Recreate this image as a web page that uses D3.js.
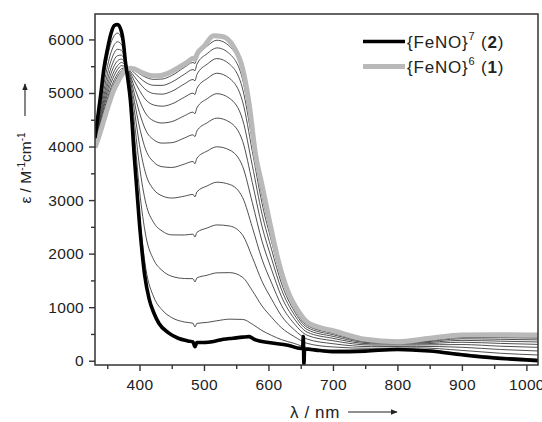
<!DOCTYPE html>
<html>
<head>
<meta charset="utf-8">
<script src="https://cdn.jsdelivr.net/npm/d3@7"></script>
<style>
  html, body { margin: 0; padding: 0; background: #fff; }
  svg text { font-family: "Liberation Sans", Arial, Helvetica, sans-serif; fill: #222; }
</style>
</head>
<body>
<svg id="chart" width="542" height="422"></svg>
<script>
// ---------- data ----------
const xTicksMajor = [400, 500, 600, 700, 800, 900, 1000];
const xTicksMinor = [350, 450, 550, 650, 750, 850, 950];
const yTicksMajor = [0, 1000, 2000, 3000, 4000, 5000, 6000];
const yTicksMinor = [500, 1500, 2500, 3500, 4500, 5500];

// {FeNO}7 (2) – black
const lambdaBlack = [331, 340, 345, 350, 356, 361, 366, 372, 375, 378, 382, 386, 392, 400, 408, 415, 422, 430, 445, 460, 475, 483, 486, 489, 500, 515, 530, 545, 560, 570, 575, 580, 600, 630, 650, 653, 654, 655, 656, 680, 700, 750, 800, 850, 900, 950, 1000, 1018];
const epsBlack    = [4160, 4980, 5470, 5800, 6120, 6260, 6280, 6150, 5950, 5600, 5250, 4850, 3800, 2550, 1600, 1150, 900, 700, 520, 420, 370, 350, 260, 340, 340, 360, 400, 420, 440, 450, 420, 390, 340, 290, 230, 240, 450, -60, 220, 190, 170, 180, 210, 180, 110, 50, 15, 0];

// {FeNO}6 (1) – grey
const lambdaGrey = [331, 340, 350, 360, 366, 372, 378, 385, 392, 400, 410, 420, 430, 445, 460, 475, 483, 486, 489, 500, 515, 530, 545, 560, 570, 580, 590, 600, 615, 630, 645, 660, 680, 700, 750, 800, 850, 900, 950, 1000, 1018];
const epsGrey    = [3980, 4300, 4700, 5050, 5200, 5330, 5420, 5460, 5450, 5400, 5350, 5320, 5320, 5370, 5470, 5580, 5650, 5630, 5720, 5870, 6070, 6050, 5880, 5450, 4800, 3850, 3280, 2700, 1880, 1300, 950, 720, 620, 560, 400, 355, 420, 480, 485, 480, 480];

// intermediate spectra
const lambdaThin = [331, 345, 356, 366, 372, 378, 385, 392, 400, 410, 422, 435, 450, 470, 483, 486, 489, 505, 520, 540, 560, 575, 590, 605, 620, 640, 660, 700, 760, 830, 900, 960, 1018];
const thin1  = [4133, 5315, 5941, 6118, 6027, 5700, 5005, 3978, 2738, 1707, 1192, 950, 805, 722, 700, 630, 697, 716, 746, 776, 771, 683, 563, 472, 394, 323, 244, 196, 199, 212, 134, 69, 32];
const thin2  = [4106, 5180, 5763, 5956, 5904, 5651, 5083, 4229, 3186, 2320, 1886, 1686, 1577, 1535, 1532, 1470, 1546, 1597, 1641, 1645, 1557, 1308, 1023, 809, 617, 451, 324, 257, 231, 240, 193, 139, 107];
const thin3  = [4083, 5063, 5608, 5816, 5797, 5608, 5157, 4468, 3633, 2932, 2580, 2422, 2350, 2348, 2364, 2310, 2396, 2479, 2536, 2515, 2344, 1932, 1483, 1147, 840, 578, 404, 318, 263, 268, 251, 209, 182];
const thin4  = [4063, 4964, 5477, 5697, 5707, 5572, 5220, 4675, 4032, 3478, 3198, 3079, 3038, 3074, 3106, 3060, 3153, 3265, 3334, 3291, 3045, 2490, 1894, 1448, 1038, 691, 475, 373, 292, 294, 302, 271, 250];
const thin5  = [4047, 4883, 5370, 5600, 5633, 5542, 5273, 4844, 4363, 3930, 3711, 3623, 3609, 3674, 3721, 3680, 3781, 3916, 3995, 3933, 3626, 2951, 2233, 1697, 1203, 785, 534, 418, 315, 314, 345, 323, 305];
const thin6  = [4032, 4811, 5275, 5513, 5568, 5516, 5317, 4988, 4631, 4297, 4127, 4064, 4072, 4161, 4219, 4185, 4290, 4444, 4531, 4454, 4097, 3325, 2509, 1900, 1337, 861, 582, 455, 335, 331, 380, 365, 350];
const thin7  = [4020, 4748, 5192, 5438, 5510, 5493, 5355, 5112, 4859, 4609, 4480, 4439, 4465, 4576, 4643, 4612, 4722, 4893, 4987, 4897, 4498, 3644, 2743, 2072, 1450, 926, 623, 486, 351, 346, 410, 400, 389];
const thin8  = [4007, 4685, 5108, 5362, 5453, 5469, 5390, 5224, 5049, 4870, 4776, 4753, 4795, 4923, 4998, 4970, 5085, 5269, 5369, 5269, 4834, 3910, 2940, 2216, 1545, 980, 657, 512, 365, 358, 434, 430, 421];
const thin9  = [3998, 4640, 5049, 5308, 5412, 5453, 5416, 5306, 5186, 5058, 4989, 4978, 5031, 5172, 5252, 5228, 5344, 5539, 5643, 5535, 5074, 4102, 3080, 2319, 1614, 1019, 682, 531, 375, 367, 452, 452, 444];
const thin10 = [3989, 4595, 4989, 5254, 5371, 5436, 5437, 5376, 5286, 5194, 5143, 5142, 5203, 5353, 5438, 5416, 5534, 5735, 5842, 5728, 5250, 4241, 3183, 2394, 1663, 1048, 700, 544, 382, 373, 465, 467, 461];
const thin11 = [3984, 4568, 4954, 5222, 5346, 5427, 5451, 5422, 5357, 5292, 5254, 5260, 5326, 5482, 5570, 5550, 5669, 5876, 5985, 5867, 5375, 4340, 3256, 2448, 1699, 1068, 712, 554, 387, 377, 474, 478, 473];

const legendLabels = [
  { base: "{FeNO}", sup: "7", num: "2" },
  { base: "{FeNO}", sup: "6", num: "1" }
];

// ---------- layout ----------
const svg = d3.select("#chart");
const L = 95, R = 538, T = 14, B = 365;
const x = d3.scaleLinear().domain([331, 1018]).range([L, R]);
const y = d3.scaleLinear().domain([-80, 6475]).range([B, T]);

svg.append("defs").append("clipPath").attr("id", "clip")
  .append("rect").attr("x", L).attr("y", T).attr("width", R - L).attr("height", B - T);

const line = d3.line().x(d => x(d[0])).y(d => y(d[1])).curve(d3.curveMonotoneX);
const zip = (xs, ys) => xs.map((v, i) => [v, ys[i]]);

const plot = svg.append("g").attr("clip-path", "url(#clip)");
const thinSeries = [thin1, thin2, thin3, thin4, thin5, thin6, thin7, thin8, thin9, thin10, thin11];
thinSeries.forEach(s => {
  plot.append("path").attr("d", line(zip(lambdaThin, s)))
    .attr("fill", "none").attr("stroke", "#3c3c3c").attr("stroke-width", 0.9);
});
plot.append("path").attr("d", line(zip(lambdaGrey, epsGrey)))
  .attr("fill", "none").attr("stroke", "#b9b9b9").attr("stroke-width", 5).attr("stroke-linejoin", "round");
plot.append("path").attr("d", line(zip(lambdaBlack, epsBlack)))
  .attr("fill", "none").attr("stroke", "#000").attr("stroke-width", 3.6).attr("stroke-linejoin", "round");

// ---------- axes ----------
const axisColor = "#333";
function styleAxis(g) {
  g.attr("font-size", null).attr("font-family", null);
  g.select(".domain").remove();
  g.selectAll("line").attr("stroke", axisColor).attr("stroke-width", 1.4);
  g.selectAll("text").attr("fill", "#222").style("font-size", "15.5px")
    .style("letter-spacing", "0.3px")
    .style("font-family", '"Liberation Sans", Arial, sans-serif');
}
svg.append("g").attr("transform", `translate(0,${B})`)
  .call(d3.axisBottom(x).tickValues(xTicksMajor).tickFormat(d3.format("d")).tickSize(6).tickPadding(8).tickSizeOuter(0))
  .call(styleAxis);
svg.append("g").attr("transform", `translate(0,${B})`)
  .call(d3.axisBottom(x).tickValues(xTicksMinor).tickSize(4).tickFormat("").tickSizeOuter(0))
  .call(styleAxis);
svg.append("g").attr("transform", `translate(${L},0)`)
  .call(d3.axisLeft(y).tickValues(yTicksMajor).tickFormat(d3.format("d")).tickSize(6).tickPadding(5).tickSizeOuter(0))
  .call(styleAxis);
svg.append("g").attr("transform", `translate(${L},0)`)
  .call(d3.axisLeft(y).tickValues(yTicksMinor).tickSize(4).tickFormat("").tickSizeOuter(0))
  .call(styleAxis);

// frame
svg.append("rect").attr("x", L).attr("y", T).attr("width", R - L).attr("height", B - T)
  .attr("fill", "none").attr("stroke", axisColor).attr("stroke-width", 1.5);

// arrow marker
svg.select("defs").append("marker").attr("id", "arr")
  .attr("viewBox", "0 0 10 10").attr("refX", 9).attr("refY", 5)
  .attr("markerWidth", 7).attr("markerHeight", 7).attr("markerUnits", "userSpaceOnUse")
  .attr("orient", "auto")
  .append("path").attr("d", "M0,1 L10,5 L0,9 Z").attr("fill", "#222");

// y title
const yt = svg.append("text")
  .attr("transform", "translate(31,168) rotate(-90)")
  .attr("text-anchor", "middle").style("font-size", "15.5px");
yt.append("tspan").text("\u03b5 / M");
yt.append("tspan").attr("dy", -6).style("font-size", "10px").text("-1");
yt.append("tspan").attr("dy", 6).text("cm");
yt.append("tspan").attr("dy", -6).style("font-size", "10px").text("-1");
svg.append("line").attr("x1", 25).attr("x2", 25).attr("y1", 116).attr("y2", 84)
  .attr("stroke", "#222").attr("stroke-width", 1.1).attr("marker-end", "url(#arr)");

// x title
svg.append("text").attr("x", 315).attr("y", 418).attr("text-anchor", "middle")
  .style("font-size", "17px").style("letter-spacing", "0.6px").text("\u03bb / nm");
svg.append("line").attr("x1", 348).attr("x2", 397).attr("y1", 412).attr("y2", 412)
  .attr("stroke", "#222").attr("stroke-width", 1.1).attr("marker-end", "url(#arr)");

// legend
const legColors = ["#000", "#b9b9b9"];
const legWidths = [3.6, 5];
legendLabels.forEach((d, i) => {
  const ly = 41.5 + i * 25;
  svg.append("line").attr("x1", 363).attr("x2", 405).attr("y1", ly).attr("y2", ly)
    .attr("stroke", legColors[i]).attr("stroke-width", legWidths[i]);
  const t = svg.append("text").attr("x", 407).attr("y", ly + 6.5)
    .style("font-size", "17px").style("letter-spacing", "0.8px");
  t.append("tspan").text(d.base);
  t.append("tspan").attr("dy", -8).style("font-size", "11px").text(d.sup);
  t.append("tspan").attr("dy", 8).text(" (");
  t.append("tspan").style("font-weight", "bold").text(d.num);
  t.append("tspan").text(")");
});
</script>
</body>
</html>
